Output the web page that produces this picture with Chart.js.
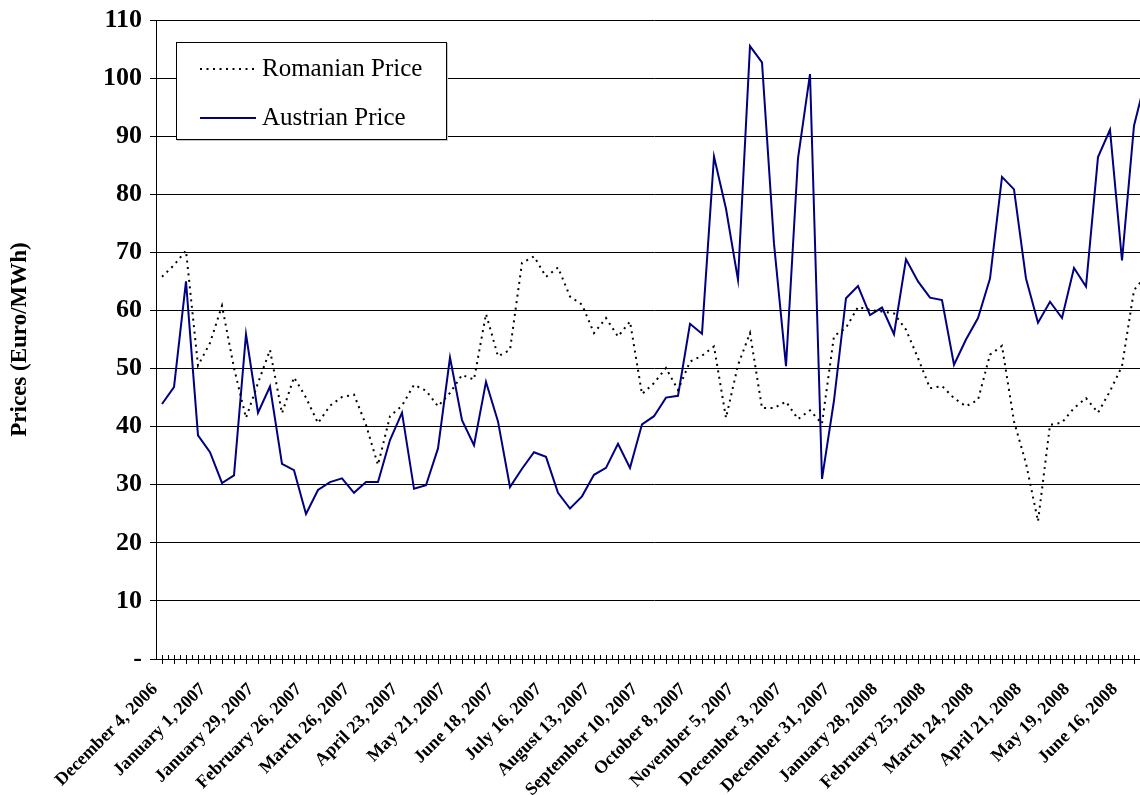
<!DOCTYPE html>
<html>
<head>
<meta charset="utf-8">
<title>Romanian and Austrian electricity prices</title>
<script src="https://cdn.jsdelivr.net/npm/chart.js@4/dist/chart.umd.min.js"></script>
<style>
  html, body { margin: 0; padding: 0; background: #fff; overflow: hidden; }
  #wrap { position: relative; width: 1140px; height: 795px; overflow: hidden; }
  #c { position: absolute; left: 0; top: 0; }
  #legend {
    position: absolute; left: 176px; top: 42px; width: 269px; height: 96px;
    border: 1px solid #000; background: #fff; box-shadow: 1px 1px 0 #c8c8c8;
    font-family: "Liberation Serif", "Times New Roman", serif; font-size: 25px; color: #000;
  }
  .lg-line { position: absolute; left: 23px; }
  .lg-text { position: absolute; left: 85px; line-height: 25px; white-space: nowrap; }
</style>
</head>
<body>
<div id="wrap">
  <canvas id="c" width="1152" height="795"></canvas>
  <div id="legend"></div>
</div>
<script>
// Weekly observations, Monday of each week
const weeks = [
  "December 4, 2006", "December 11, 2006", "December 18, 2006", "December 25, 2006",
  "January 1, 2007", "January 8, 2007", "January 15, 2007", "January 22, 2007",
  "January 29, 2007", "February 5, 2007", "February 12, 2007", "February 19, 2007",
  "February 26, 2007", "March 5, 2007", "March 12, 2007", "March 19, 2007",
  "March 26, 2007", "April 2, 2007", "April 9, 2007", "April 16, 2007",
  "April 23, 2007", "April 30, 2007", "May 7, 2007", "May 14, 2007",
  "May 21, 2007", "May 28, 2007", "June 4, 2007", "June 11, 2007",
  "June 18, 2007", "June 25, 2007", "July 2, 2007", "July 9, 2007",
  "July 16, 2007", "July 23, 2007", "July 30, 2007", "August 6, 2007",
  "August 13, 2007", "August 20, 2007", "August 27, 2007", "September 3, 2007",
  "September 10, 2007", "September 17, 2007", "September 24, 2007", "October 1, 2007",
  "October 8, 2007", "October 15, 2007", "October 22, 2007", "October 29, 2007",
  "November 5, 2007", "November 12, 2007", "November 19, 2007", "November 26, 2007",
  "December 3, 2007", "December 10, 2007", "December 17, 2007", "December 24, 2007",
  "December 31, 2007", "January 7, 2008", "January 14, 2008", "January 21, 2008",
  "January 28, 2008", "February 4, 2008", "February 11, 2008", "February 18, 2008",
  "February 25, 2008", "March 3, 2008", "March 10, 2008", "March 17, 2008",
  "March 24, 2008", "March 31, 2008", "April 7, 2008", "April 14, 2008",
  "April 21, 2008", "April 28, 2008", "May 5, 2008", "May 12, 2008",
  "May 19, 2008", "May 26, 2008", "June 2, 2008", "June 9, 2008",
  "June 16, 2008", "June 23, 2008", "June 30, 2008"
];

// Every fourth week carries a label on the axis
const labelEvery = 4;

// Prices in Euro/MWh
const romanianPrice = [
  65.8, 67.8, 70.3, 50.5, 54.4, 60.8, 50.1, 41.5, 47.5, 53.2,
  42.3, 48.5, 45.0, 40.6, 43.6, 45.1, 45.5, 40.3, 33.4, 41.8,
  43.6, 47.2, 46.2, 43.5, 45.8, 48.9, 48.1, 59.4, 52.1, 53.2,
  68.2, 69.3, 65.8, 67.4, 62.4, 61.0, 56.1, 58.7, 55.5, 58.1,
  45.6, 47.5, 50.1, 46.3, 51.2, 52.2, 53.8, 41.5, 50.6, 56.1,
  43.2, 43.2, 44.3, 41.3, 42.8, 40.5, 55.6, 57.0, 60.6, 60.1,
  59.8, 59.5, 56.7, 51.8, 46.6, 47.0, 44.9, 43.5, 44.6, 52.4,
  53.9, 40.9, 33.7, 23.7, 40.3, 40.7, 43.2, 44.9, 42.4, 46.1,
  50.4, 63.5, 66.0
];

const austrianPrice = [
  43.9, 46.8, 65.0, 38.5, 35.6, 30.3, 31.6, 55.9, 42.4, 46.9,
  33.6, 32.5, 24.95, 29.1, 30.45, 31.1, 28.6, 30.45, 30.45, 37.7,
  42.4, 29.3, 29.9, 36.25, 51.9, 41.1, 36.8, 47.7, 40.9, 29.6,
  32.75, 35.6, 34.8, 28.6, 25.9, 28.0, 31.7, 32.9, 37.05, 32.9,
  40.4, 41.8, 45.0, 45.3, 57.7, 56.0, 86.5, 77.5, 65.25, 105.5,
  102.7, 71.5, 50.4, 86.2, 100.7, 31.0, 44.5, 62.1, 64.2, 59.2,
  60.5, 55.9, 68.8, 65.0, 62.2, 61.8, 50.65, 55.0, 58.7, 65.5,
  83.0, 80.85, 65.5, 57.9, 61.5, 58.7, 67.3, 64.1, 86.4, 91.1,
  68.6, 91.8, 100.0
];

const serif = '"Liberation Serif", "Times New Roman", serif';

// Short upward marks on the category axis, at each week and between weeks
const axisMarks = {
  id: 'axisMarks',
  afterDatasetsDraw(chart) {
    const xs = chart.scales.x;
    const bottom = Math.round(chart.chartArea.bottom);
    const ctx = chart.ctx;
    ctx.save();
    ctx.strokeStyle = '#000';
    ctx.lineWidth = 1;
    ctx.beginPath();
    for (let i = 0; i < chart.data.labels.length; i++) {
      for (const v of [i - 0.5, i]) {
        const px = Math.round(xs.getPixelForValue(v)) + 0.5;
        ctx.moveTo(px, bottom - 4);
        ctx.lineTo(px, bottom);
      }
    }
    ctx.stroke();
    ctx.restore();
  }
};

const chart = new Chart(document.getElementById('c'), {
  type: 'line',
  data: {
    labels: weeks,
    datasets: [
      {
        label: 'Romanian Price',
        data: romanianPrice,
        borderColor: '#000000',
        borderWidth: 2,
        borderDash: [2, 4.5],
        pointRadius: 0,
        tension: 0,
        fill: false
      },
      {
        label: 'Austrian Price',
        data: austrianPrice,
        borderColor: '#000080',
        borderWidth: 2,
        pointRadius: 0,
        tension: 0,
        fill: false
      }
    ]
  },
  options: {
    responsive: false,
    animation: false,
    devicePixelRatio: 1,
    layout: { padding: { top: 20, left: 0, right: 0, bottom: 0 } },
    plugins: {
      legend: { display: false },
      tooltip: { enabled: false }
    },
    scales: {
      x: {
        offset: true,
        grid: {
          display: true,
          offset: false,
          drawOnChartArea: false,
          drawTicks: true,
          tickLength: 5,
          color: '#000'
        },
        border: { display: true, color: '#000', width: 1 },
        ticks: {
          autoSkip: false,
          minRotation: 45,
          maxRotation: 45,
          padding: 15,
          labelOffset: -7,
          color: '#000',
          font: { family: serif, size: 18, weight: 'bold' },
          callback: (v, i) => (i % labelEvery === 0 ? weeks[i] : '')
        },
        afterFit: (s) => { s.height = 136; s.paddingRight = 0; }
      },
      y: {
        min: 0,
        max: 110,
        ticks: {
          stepSize: 10,
          padding: 8,
          color: '#000',
          font: { family: serif, size: 26, weight: 'bold' },
          callback: (v) => (v === 0 ? '-' : v)
        },
        grid: { color: '#000', lineWidth: 1, drawTicks: true, tickLength: 6 },
        border: { display: true, color: '#000', width: 1 },
        title: {
          display: true,
          text: 'Prices (Euro/MWh)',
          color: '#000',
          font: { family: serif, size: 23, weight: 'bold' },
          padding: { top: 6, bottom: 0 }
        },
        afterFit: (s) => { s.width = 156; s.paddingTop = 0; s.paddingBottom = 0; }
      }
    }
  },
  plugins: [axisMarks]
});

// Boxed legend inside the plot, built from the datasets
const legendEl = document.getElementById('legend');
const rowTops = [12, 61];
chart.data.datasets.forEach((ds, k) => {
  const top = rowTops[k];
  const svgNS = 'http://www.w3.org/2000/svg';
  const svg = document.createElementNS(svgNS, 'svg');
  svg.setAttribute('class', 'lg-line');
  svg.setAttribute('width', '56');
  svg.setAttribute('height', '10');
  svg.style.top = (top + 9) + 'px';
  const ln = document.createElementNS(svgNS, 'line');
  ln.setAttribute('x1', '0'); ln.setAttribute('x2', '56');
  ln.setAttribute('y1', '5'); ln.setAttribute('y2', '5');
  ln.setAttribute('stroke', ds.borderColor);
  ln.setAttribute('stroke-width', ds.borderWidth);
  if (ds.borderDash) ln.setAttribute('stroke-dasharray', ds.borderDash.join(' '));
  svg.appendChild(ln);
  legendEl.appendChild(svg);
  const txt = document.createElement('span');
  txt.className = 'lg-text';
  txt.style.top = top + 'px';
  txt.textContent = ds.label;
  legendEl.appendChild(txt);
});
</script>
</body>
</html>
